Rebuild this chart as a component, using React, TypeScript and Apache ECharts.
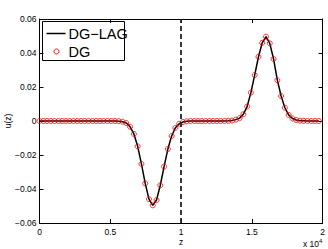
import React, { useEffect, useRef } from "react";
import * as echarts from "echarts";

const zValues = [
  0, 0.0267, 0.0533, 0.08, 0.1067, 0.1333, 0.16, 0.1867, 0.2133, 0.24,
  0.2667, 0.2933, 0.32, 0.3467, 0.3733, 0.4, 0.4267, 0.4533, 0.48, 0.5067,
  0.5333, 0.56, 0.5867, 0.6133, 0.64, 0.6667, 0.6933, 0.72, 0.7467, 0.7733,
  0.8, 0.8267, 0.8533, 0.88, 0.9067, 0.9333, 0.96, 0.9867, 1.0133, 1.04,
  1.0667, 1.0933, 1.12, 1.1467, 1.1733, 1.2, 1.2267, 1.2533, 1.28, 1.3067,
  1.3333, 1.36, 1.3867, 1.4133, 1.44, 1.4667, 1.4933, 1.52, 1.5467, 1.5733,
  1.6, 1.6267, 1.6533, 1.68, 1.7067, 1.7333, 1.76, 1.7867, 1.8133, 1.84,
  1.8667, 1.8933, 1.92, 1.9467, 1.9733,
];

const dgLagValues = [
  0, 0, 0, 0, 0, 0, 0, 0, 0, 0,
  0, 0, 0, 0, 0, 0, 0, 0, 0, 0,
  0, -0.0001, -0.0004, -0.0012, -0.0034, -0.0076, -0.0149, -0.0252, -0.0367, -0.046,
  -0.0496, -0.0465, -0.0378, -0.0268, -0.0165, -0.0088, -0.004, -0.0016, -0.0006, -0.0002,
  0, 0, 0, 0, 0, 0, 0, 0, 0, 0,
  0.0001, 0.0003, 0.0008, 0.0017, 0.004, 0.0085, 0.0167, 0.027, 0.0378, 0.046,
  0.0496, 0.0457, 0.0365, 0.024, 0.0147, 0.0078, 0.0036, 0.0015, 0.0006, 0.0002,
  0.0001, 0, 0, 0, 0,
];

const dgValues = [
  0, 0, 0, 0, 0, 0, 0, 0, 0, 0,
  0, 0, 0, 0, 0, 0, 0, 0, 0, 0,
  0, -0.0001, -0.0004, -0.0012, -0.0034, -0.0076, -0.0149, -0.0252, -0.0367, -0.046,
  -0.0496, -0.0465, -0.0378, -0.0268, -0.0165, -0.0088, -0.004, -0.0016, -0.0006, -0.0002,
  0, 0, 0, 0, 0, 0, 0, 0, 0, 0,
  0.0001, 0.0003, 0.0008, 0.0017, 0.004, 0.0085, 0.0167, 0.027, 0.0378, 0.046,
  0.0496, 0.0457, 0.0365, 0.024, 0.0147, 0.0078, 0.0036, 0.0015, 0.0006, 0.0002,
  0.0001, 0, 0, 0, 0,
];

const seriesNames = ["DG\u2212LAG", "DG"];
const interfaceZ = 1;

const FONT = "'Liberation Sans', Arial, Helvetica, sans-serif";

function fmtY(v: number): string {
  if (Math.abs(v) < 1e-9) return "0";
  const s = Math.abs(v).toFixed(2);
  return v < 0 ? "\u2212" + s : s;
}
function fmtX(v: number): string {
  return String(Math.round(v * 10) / 10);
}

export default function App() {
  const ref = useRef<HTMLDivElement>(null);
  useEffect(() => {
    if (!ref.current) return;
    const chart = echarts.init(ref.current, null, { renderer: "svg" });
    const lagData = zValues.map((z, i) => [z, dgLagValues[i]]);
    const dgData = zValues.map((z, i) => [z, dgValues[i]]);
    const axisLine = { show: true, onZero: false, lineStyle: { color: "#000", width: 1 } };
    const tick = { show: true, inside: true, length: 4, lineStyle: { color: "#000", width: 1 } };
    const legendFont = 14.5;
    chart.setOption({
      animation: false,
      backgroundColor: "#fff",
      grid: { left: 39.5, right: 5, top: 19, bottom: 26, containLabel: false },
      xAxis: [
        {
          type: "value", min: 0, max: 2, interval: 0.5, position: "bottom",
          axisLine, axisTick: tick, splitLine: { show: false },
          axisLabel: { fontSize: 8.5, color: "#000", fontFamily: FONT, margin: 4, formatter: fmtX },
        },
        {
          type: "value", min: 0, max: 2, interval: 0.5, position: "top",
          axisLine, axisTick: tick, splitLine: { show: false }, axisLabel: { show: false },
        },
      ],
      yAxis: [
        {
          type: "value", min: -0.06, max: 0.06, interval: 0.02, position: "left",
          axisLine, axisTick: tick, splitLine: { show: false },
          axisLabel: { fontSize: 8.5, color: "#000", fontFamily: FONT, margin: 3, formatter: fmtY },
        },
        {
          type: "value", min: -0.06, max: 0.06, interval: 0.02, position: "right",
          axisLine, axisTick: tick, splitLine: { show: false }, axisLabel: { show: false },
        },
      ],
      series: [
        {
          name: seriesNames[0],
          type: "line",
          data: lagData,
          showSymbol: false,
          symbol: "none",
          lineStyle: { color: "#000", width: 1.5 },
          itemStyle: { color: "#000" },
          z: 2,
          markLine: {
            silent: true,
            symbol: "none",
            label: { show: false },
            lineStyle: { color: "#222", width: 1.8, type: [5, 3] },
            data: [{ xAxis: interfaceZ }],
          },
        },
        {
          name: seriesNames[1],
          type: "scatter",
          data: dgData,
          symbol: "circle",
          symbolSize: 5,
          itemStyle: { color: "rgba(255,255,255,0)", borderColor: "#ff0000", borderWidth: 1 },
          z: 3,
        },
      ],
      graphic: [
        {
          type: "group",
          left: 42,
          top: 21,
          z: 100,
          children: [
            {
              type: "rect",
              shape: { x: 0, y: 0, width: 82, height: 39 },
              style: { fill: "#fff", stroke: "#000", lineWidth: 1 },
            },
            {
              type: "line",
              shape: { x1: 4, y1: 12, x2: 23, y2: 12 },
              style: { stroke: "#000", lineWidth: 1.5 },
            },
            {
              type: "text", x: 26, y: 12,
              style: { text: seriesNames[0], fontSize: legendFont, fill: "#000", fontFamily: FONT, verticalAlign: "middle" },
            },
            {
              type: "circle",
              shape: { cx: 14, cy: 30, r: 2.5 },
              style: { fill: "none", stroke: "#ff0000", lineWidth: 1 },
            },
            {
              type: "text", x: 26, y: 30,
              style: { text: seriesNames[1], fontSize: legendFont, fill: "#000", fontFamily: FONT, verticalAlign: "middle" },
            },
          ],
        },
        {
          type: "text", x: 181, y: 237,
          style: { text: "z", fontSize: 8.5, fill: "#000", fontFamily: FONT, align: "center" },
        },
        {
          type: "text", x: 303, y: 238,
          style: {
            text: "x 10{s|4}",
            fontSize: 8.5, fill: "#000", fontFamily: FONT,
            rich: { s: { fontSize: 6, verticalAlign: "top", padding: [0, 0, 6, 0] } },
          },
        },
        {
          type: "text", x: 8, y: 121, rotation: Math.PI / 2,
          style: { text: "u(z)", fontSize: 8.5, fill: "#000", fontFamily: FONT, align: "center", verticalAlign: "middle" },
        },
      ],
    });
    return () => chart.dispose();
  }, []);
  return <div ref={ref} style={{ position: "fixed", left: 0, top: 0, width: 328, height: 249 }} />;
}
